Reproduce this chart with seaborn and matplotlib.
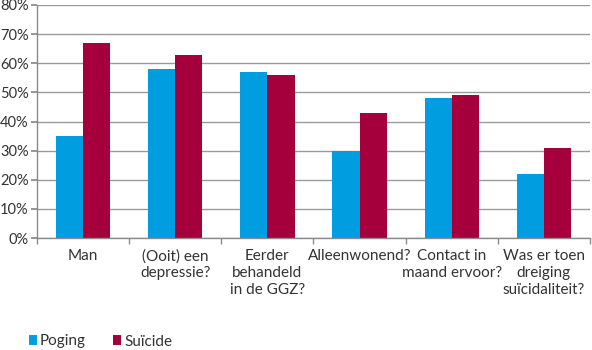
import matplotlib
matplotlib.use("Agg")
import matplotlib.pyplot as plt
import seaborn as sns
import pandas as pd
import numpy as np
from matplotlib.ticker import FixedLocator, PercentFormatter
from matplotlib.patches import Patch

categories = ["Man", "(Ooit) een\ndepressie?", "Eerder\nbehandeld\nin de GGZ?",
              "Alleenwonend?", "Contact in\nmaand ervoor?", "Was er toen\ndreiging\nsuïcidaliteit?"]
poging = [35, 58, 57, 30, 48, 22]
suicide = [67, 63, 56, 43, 49, 31]
series = ["Poging", "Suïcide"]
colors = ["#009EE0", "#A6003C"]
yticks = [0, 10, 20, 30, 40, 50, 60, 70, 80]

df = pd.DataFrame({
    "cat": categories * 2,
    "val": poging + suicide,
    "serie": [series[0]] * len(categories) + [series[1]] * len(categories),
})

sns.set_theme(style="white")
plt.rcParams["font.family"] = ["Lato", "DejaVu Sans"]

fig = plt.figure(figsize=(5.92, 3.5), dpi=100)
ax = fig.add_axes([37/592, 1-238/350, (590-37)/592, (238-5)/350])

sns.barplot(data=df, x="cat", y="val", hue="serie", palette=colors,
            width=0.59, saturation=1, ax=ax, legend=False, linewidth=0)

ax.set_ylim(0, 80)
ax.set_xlim(-0.5, len(categories) - 0.5)
ax.yaxis.set_major_locator(FixedLocator(yticks))
ax.yaxis.set_major_formatter(PercentFormatter(decimals=0))
ax.grid(axis="y", color="#9a9a9a", linewidth=1)
ax.set_axisbelow(True)
for s in ["top", "right"]:
    ax.spines[s].set_visible(False)
for s in ["left", "bottom"]:
    ax.spines[s].set_color("#8a8a8a")
    ax.spines[s].set_linewidth(1)
ax.set_xlabel("")
ax.set_ylabel("")
ax.tick_params(axis="y", length=4, color="#8a8a8a", labelsize=10.5, pad=2, colors="#333333", left=True)
ax.tick_params(axis="x", length=0, labelsize=11, pad=8, colors="#333333")
ax.set_xticks(np.arange(-0.5, len(categories), 1), minor=True)
ax.tick_params(axis="x", which="minor", length=4, color="#8a8a8a", bottom=True)
ax.set_xticklabels(categories, linespacing=1.25)

handles = [Patch(facecolor=c, edgecolor="none") for c in colors]
fig.legend(handles, series, loc="lower left", bbox_to_anchor=(0.025, -0.035), ncol=2,
           frameon=False, fontsize=11, handlelength=0.55, handleheight=0.55,
           handletextpad=0.2, columnspacing=1.75, labelcolor="#333333")

fig.savefig("out.png", dpi=100)
